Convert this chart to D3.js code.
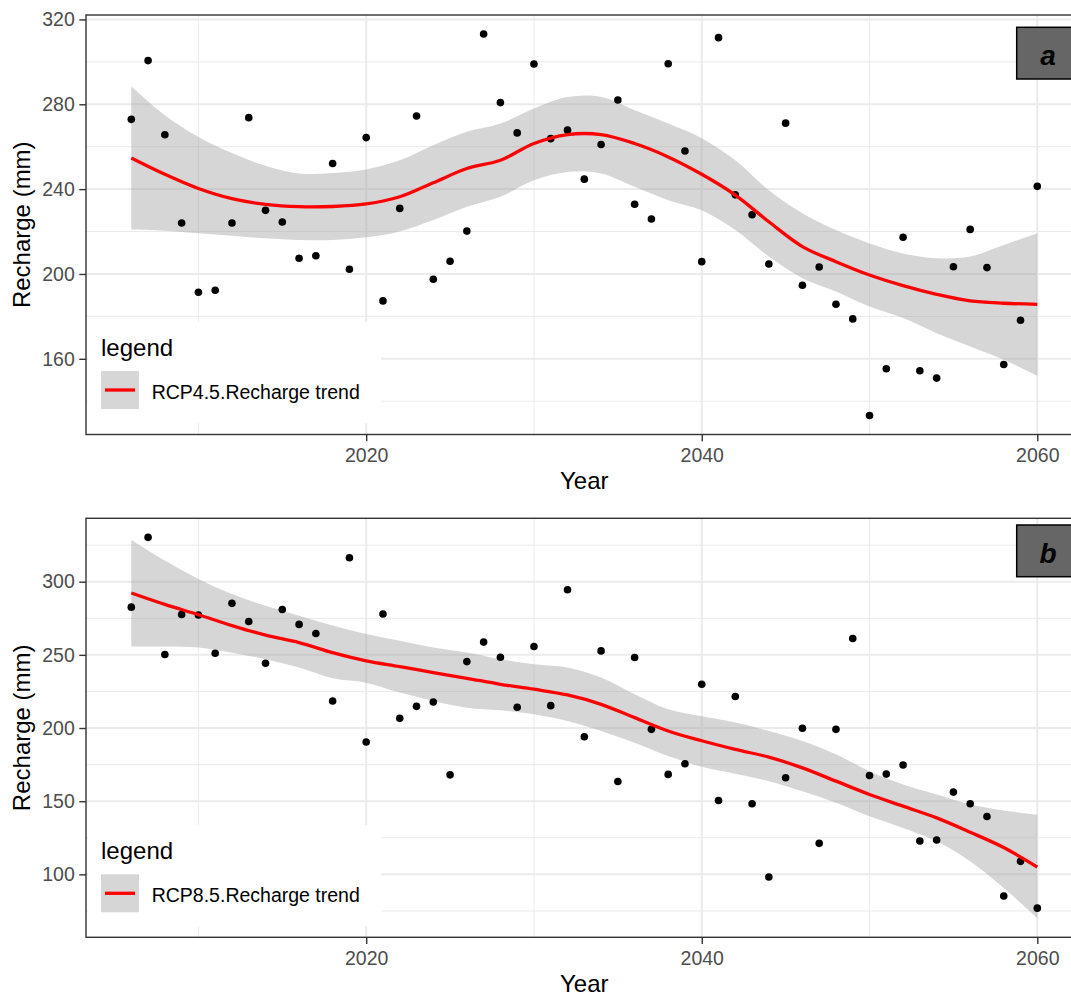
<!DOCTYPE html>
<html>
<head>
<meta charset="utf-8">
<script src="https://cdn.jsdelivr.net/npm/d3@7"></script>
<style>
body { margin: 0; background: #fff; }
svg { display: block; font-family: "Liberation Sans", Arial, sans-serif; }
</style>
</head>
<body>
<svg id="chart"></svg>
<script>
// yearly recharge values (mm)
const years = [2006,2007,2008,2009,2010,2011,2012,2013,2014,2015,2016,2017,2018,2019,2020,
  2021,2022,2023,2024,2025,2026,2027,2028,2029,2030,2031,2032,2033,2034,2035,2036,2037,2038,2039,2040,
  2041,2042,2043,2044,2045,2046,2047,2048,2049,2050,2051,2052,2053,2054,2055,2056,2057,2058,2059,2060];

const rechargeA = [272.9,300.6,265.6,224,191.4,192.3,224,273.7,230,224.5,207.4,208.6,252.1,202.2,264.3,
  187.3,230.9,274.5,197.5,206,220.2,313.1,280.8,266.5,299,263.8,267.8,244.7,261,282,232.9,225.9,299.1,258,205.8,
  311.4,237.3,227.9,204.7,271.1,194.7,203.3,185.7,178.8,133.3,155.3,217.3,154.4,150.9,203.4,221,203,157.3,178.2,241.3];

const rechargeB = [282.6,330.3,250.2,277.6,277.2,251.1,285.2,272.8,244.3,281,270.8,264.6,218.5,316.4,190.4,
  277.9,206.6,214.8,217.8,168,245.4,258.7,248.4,214.2,255.7,215.3,294.5,194,252.7,163.5,248.2,199.1,168.3,175.6,229.9,
  150.5,221.5,148.2,98.2,166,199.8,121.2,199.1,261.2,167.6,168.5,174.7,122.8,123.5,156.2,148.2,139.5,85.2,108.9,76.9];

// smoothed trend and its confidence band
const trendYears = [2006,2008,2010,2012,2014,2016,2018,2020,2022,2024,2026,2028,2030,2032,
  2034,2036,2038,2040,2042,2044,2046,2048,2050,2052,2054,2056,2058,2060];

const trendA = [254.7,247,240.3,235.5,232.8,231.7,231.8,233,236.4,243,249.7,253.6,261.5,265.7,
  265.7,261.5,255.2,247,237.2,224.6,212.9,205.8,199.5,194.5,190.4,187.3,186.2,185.7];
const upperA = [288.5,274.8,264.6,257,251,247.4,247.6,249.3,253.6,260.7,267,270.9,278,283.4,
  283.4,277.2,270.9,264,253.6,239.5,228.6,220.7,214.4,209.7,207.4,208.2,213.6,219.2];
const lowerA = [221,220.4,219.2,218,216.8,216,216,217.3,220,225.4,231.7,236.4,244.2,248.1,
  247.4,241.1,234.8,230,220.7,208.2,198,191.7,184.6,179.2,172.1,165.8,159.5,152];

const trendB = [292.3,284.5,277.4,270,263.5,258.4,251.5,245.9,242,237.9,234,229.9,226.5,222.6,
  216.2,207.1,198,191.3,185.4,180.1,172.8,163.7,154.6,146.6,138.6,128.8,118.3,105];
const upperB = [328.5,314.4,301.8,291.5,283.5,276.7,270,264.2,259.6,255,251.6,247,243.6,241.3,
  234.5,223.1,212.8,208,203.7,198,191.1,182,170.5,161.4,154.6,147.7,143.6,140.9];
const lowerB = [255.7,255.7,255,251.5,247,241.3,234,231,224.2,218.5,213.9,212.1,209.4,204.8,
  198,189.9,180.8,173.5,168.7,163.7,156.8,148.9,139.7,131.7,122.6,108.9,90.6,70];

const xTicks = [2020, 2040, 2060];
const xMinor = [2010, 2030, 2050];
const yTicksA = [160, 200, 240, 280, 320];
const yMinorA = [140, 180, 220, 260, 300];
const yTicksB = [100, 150, 200, 250, 300];
const yMinorB = [75, 125, 175, 225, 275, 325];

class TrendPanel {

    constructor(config, data) {
        this.config = {
            parent: config.parent,
            left: config.left,
            top: config.top,
            width: config.width,
            height: config.height,
            yTicks: config.yTicks,
            yMinor: config.yMinor,
            legendLabel: config.legendLabel,
            tag: config.tag,
            tagY: config.tagY,
            tagBase: config.tagBase
        };
        this.data = data;
        this.init();
    }

    init() {
        let self = this;
        self.chart = d3.select(self.config.parent).append('g')
            .attr('transform', `translate(${self.config.left}, ${self.config.top})`);

        self.iw = self.config.width;
        self.ih = self.config.height;

        // ggplot style 5% expansion
        const expand = ext => {
            const pad = (ext[1] - ext[0]) * 0.05;
            return [ext[0] - pad, ext[1] + pad];
        };
        self.xscale = d3.scaleLinear()
            .domain(expand(d3.extent(self.data.points, d => d.year)))
            .range([0, self.iw]);

        const allY = self.data.points.map(d => d.value)
            .concat(self.data.trend.map(d => d.lower), self.data.trend.map(d => d.upper));
        self.yscale = d3.scaleLinear()
            .domain(expand(d3.extent(allY)))
            .range([self.ih, 0]);
    }

    render() {
        let self = this;
        const xs = self.xscale, ys = self.yscale;
        const grid = '#EBEBEB';

        // grid
        const g = self.chart.append('g');
        g.selectAll('.xminor').data(xMinor).join('line')
            .attr('x1', d => xs(d)).attr('x2', d => xs(d))
            .attr('y1', 0).attr('y2', self.ih)
            .attr('stroke', grid).attr('stroke-width', 1);
        g.selectAll('.yminor').data(self.config.yMinor).join('line')
            .attr('x1', 0).attr('x2', self.iw)
            .attr('y1', d => ys(d)).attr('y2', d => ys(d))
            .attr('stroke', grid).attr('stroke-width', 1);
        g.selectAll('.xmajor').data(xTicks).join('line')
            .attr('x1', d => xs(d)).attr('x2', d => xs(d))
            .attr('y1', 0).attr('y2', self.ih)
            .attr('stroke', grid).attr('stroke-width', 2);
        g.selectAll('.ymajor').data(self.config.yTicks).join('line')
            .attr('x1', 0).attr('x2', self.iw)
            .attr('y1', d => ys(d)).attr('y2', d => ys(d))
            .attr('stroke', grid).attr('stroke-width', 2);

        // confidence band
        const area = d3.area()
            .x(d => xs(d.year))
            .y0(d => ys(d.lower))
            .y1(d => ys(d.upper))
            .curve(d3.curveCatmullRom);
        self.chart.append('path')
            .attr('d', area(self.data.trend))
            .attr('fill', '#999999')
            .attr('fill-opacity', 0.4);

        // points
        self.chart.append('g').selectAll('circle')
            .data(self.data.points)
            .join('circle')
            .attr('cx', d => xs(d.year))
            .attr('cy', d => ys(d.value))
            .attr('r', 3.8)
            .attr('fill', 'black');

        // trend
        const line = d3.line()
            .x(d => xs(d.year))
            .y(d => ys(d.fit))
            .curve(d3.curveCatmullRom);
        self.chart.append('path')
            .attr('d', line(self.data.trend))
            .attr('fill', 'none')
            .attr('stroke', '#FF0000')
            .attr('stroke-width', 3.3);

        // border
        self.chart.append('rect')
            .attr('width', self.iw).attr('height', self.ih)
            .attr('fill', 'none')
            .attr('stroke', '#333333')
            .attr('stroke-width', 1.4);

        // axes
        const yaxis = d3.axisLeft(ys).tickValues(self.config.yTicks).tickSize(6.7).tickPadding(4.5);
        const ya = self.chart.append('g').call(yaxis);
        const xaxis = d3.axisBottom(xs).tickValues(xTicks).tickFormat(d3.format('d')).tickSize(6.7).tickPadding(7);
        const xa = self.chart.append('g')
            .attr('transform', `translate(0, ${self.ih})`)
            .call(xaxis);
        [ya, xa].forEach(a => {
            a.select('.domain').remove();
            a.selectAll('.tick line').attr('stroke', '#333333').attr('stroke-width', 1.4);
            a.selectAll('.tick text')
                .attr('fill', '#4D4D4D')
                .attr('font-size', 19.5)
                .attr('font-family', 'Liberation Sans, Arial, sans-serif');
        });

        self.chart.append('text')
            .attr('x', self.iw / 2)
            .attr('y', self.ih + 54.4)
            .attr('text-anchor', 'middle')
            .attr('font-size', 24)
            .text('Year');

        self.chart.append('text')
            .attr('transform', `translate(-64, ${self.ih / 2}) rotate(-90)`)
            .attr('dy', '0.35em')
            .attr('text-anchor', 'middle')
            .attr('font-size', 24)
            .text('Recharge (mm)');

        // legend inside panel
        const lg = self.chart.append('g');
        lg.append('rect')
            .attr('x', 2).attr('y', 307).attr('width', 293).attr('height', 101)
            .attr('fill', 'white');
        lg.append('text')
            .attr('x', 15).attr('y', 341)
            .attr('font-size', 24)
            .text('legend');
        lg.append('rect')
            .attr('x', 15).attr('y', 356).attr('width', 38).attr('height', 38)
            .attr('fill', '#999999').attr('fill-opacity', 0.4);
        lg.append('line')
            .attr('x1', 19).attr('x2', 49).attr('y1', 375).attr('y2', 375)
            .attr('stroke', '#FF0000').attr('stroke-width', 3.3);
        lg.append('text')
            .attr('x', 65.7).attr('y', 384)
            .attr('font-size', 19.5)
            .text(self.config.legendLabel);

        // panel tag
        self.chart.append('rect')
            .attr('x', 930.7).attr('y', self.config.tagY)
            .attr('width', 80).attr('height', 51.7)
            .attr('fill', '#666666')
            .attr('stroke', 'black')
            .attr('stroke-width', 1.5);
        self.chart.append('text')
            .attr('x', 962).attr('y', self.config.tagBase)
            .attr('text-anchor', 'middle')
            .attr('font-size', 28)
            .attr('font-weight', 'bold')
            .attr('font-style', 'italic')
            .text(self.config.tag);
    }
}

const svg = d3.select('#chart').attr('width', 1071).attr('height', 995);

const mkPoints = vals => years.map((y, i) => ({year: y, value: vals[i]}));
const mkTrend = (fit, up, lo) => trendYears.map((y, i) => ({year: y, fit: fit[i], upper: up[i], lower: lo[i]}));

const panelA = new TrendPanel({
    parent: '#chart', left: 86, top: 15, width: 996.6, height: 419.5,
    yTicks: yTicksA, yMinor: yMinorA,
    legendLabel: 'RCP4.5.Recharge trend', tag: 'a', tagY: 12.3, tagBase: 50
}, {points: mkPoints(rechargeA), trend: mkTrend(trendA, upperA, lowerA)});
panelA.render();

const panelB = new TrendPanel({
    parent: '#chart', left: 86, top: 518.3, width: 996.6, height: 419,
    yTicks: yTicksB, yMinor: yMinorB,
    legendLabel: 'RCP8.5.Recharge trend', tag: 'b', tagY: 6.7, tagBase: 44.4
}, {points: mkPoints(rechargeB), trend: mkTrend(trendB, upperB, lowerB)});
panelB.render();
</script>
</body>
</html>
